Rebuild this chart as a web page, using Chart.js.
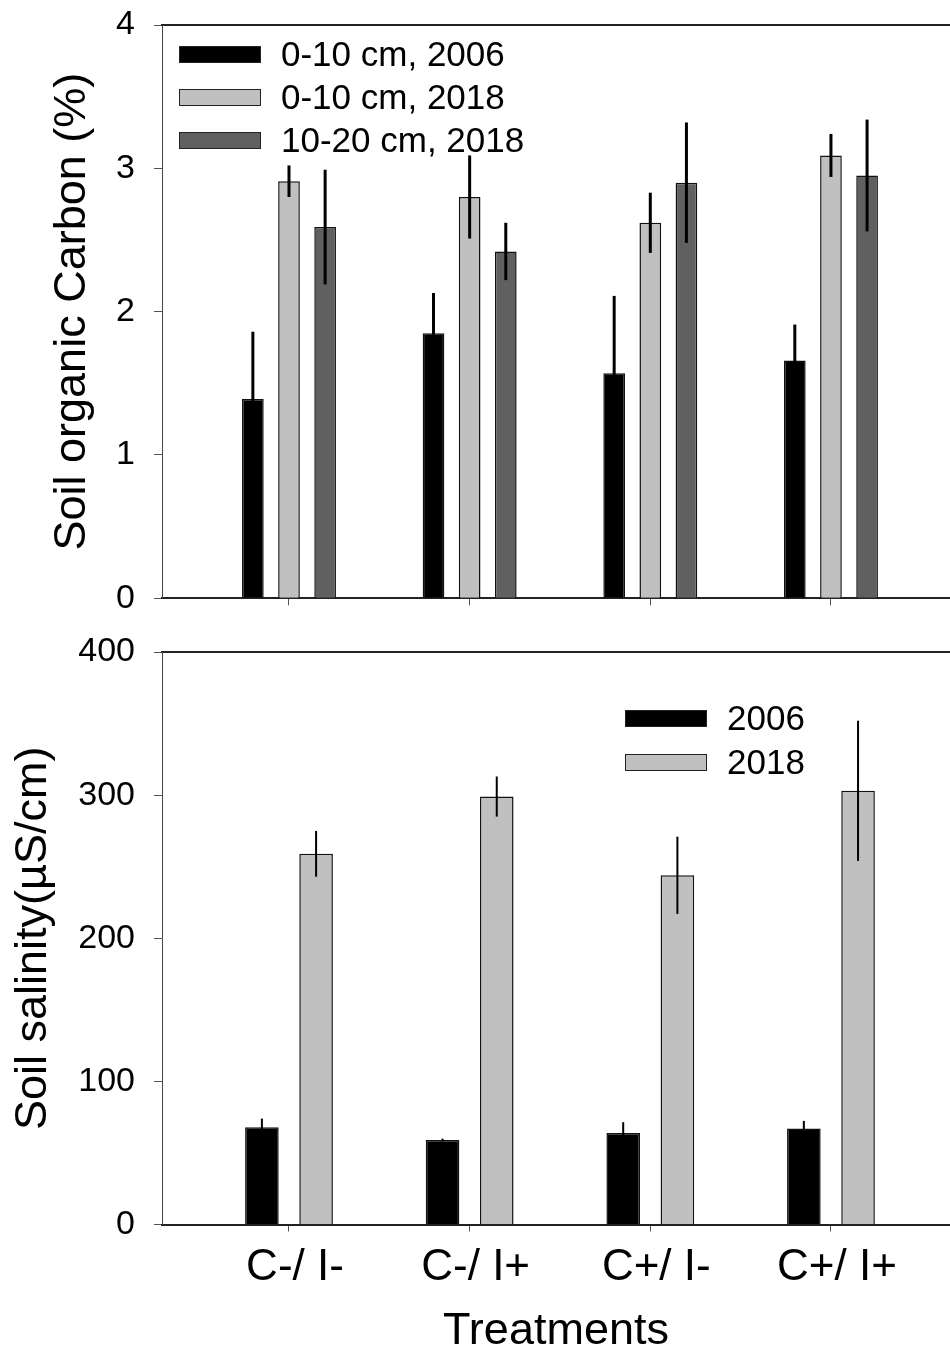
<!DOCTYPE html>
<html>
<head>
<meta charset="utf-8">
<script src="https://cdn.jsdelivr.net/npm/chart.js@4.4.0/dist/chart.umd.min.js"></script>
<style>
    body { margin: 0; background: #fff; width: 950px; height: 1354px; overflow: hidden; position: relative;
           font-family: "Liberation Sans", Arial, sans-serif; }
    canvas { position: absolute; left: 0; }
    #carbonChart { top: 0; }
    #salinityChart { top: 630px; }
    .legend { position: absolute; font-size: 35px; color: #000; }
    .legend .item { position: absolute; white-space: nowrap; height: 40px; }
    .legend .box { position: absolute; left: 0; width: 80px; height: 15px; top: 12px; border: 1px solid #222; }
    .legend .txt { position: absolute; left: 102px; top: 0; line-height: 40px; }
</style>
</head>
<body>
<canvas id="carbonChart" width="950" height="620"></canvas>
<canvas id="salinityChart" width="950" height="724"></canvas>
<div class="legend" id="carbonLegend" style="left:179px; top:34px;"></div>
<div class="legend" id="salinityLegend" style="left:625px; top:698px;"></div>

<script>
// Dados
const treatments = ['C-/ I-', 'C-/ I+', 'C+/ I-', 'C+/ I+'];

const carbonLabels = ['0-10 cm, 2006', '0-10 cm, 2018', '10-20 cm, 2018'];
const carbon2006 = [1.39, 1.85, 1.57, 1.66];
const carbon2006Err = [0.47, 0.28, 0.54, 0.25];
const carbon2018 = [2.91, 2.80, 2.62, 3.09];
const carbon2018Err = [0.11, 0.29, 0.21, 0.15];
const carbonDeep2018 = [2.59, 2.42, 2.90, 2.95];
const carbonDeep2018Err = [0.40, 0.20, 0.42, 0.39];
const carbonTicks = [0, 1, 2, 3, 4];

const salinityLabels = ['2006', '2018'];
const salinity2006 = [68, 59, 64, 67];
const salinity2006Err = [6, 1, 7.5, 5.4];
const salinity2018 = [259, 299, 244, 303];
const salinity2018Err = [16, 14, 27, 49];
const salinityTicks = [0, 100, 200, 300, 400];

const FONT = '"Liberation Sans", Arial, sans-serif';
Chart.defaults.font.family = FONT;
Chart.defaults.color = '#000';

// barras de erro (desenhadas por cima das barras)
const errorBars = {
    id: 'errorBars',
    afterDatasetsDraw(chart, args, opts) {
        const ctx = chart.ctx;
        const y = chart.scales.y;
        ctx.save();
        ctx.strokeStyle = '#000';
        ctx.lineWidth = opts.width || 2;
        chart.data.datasets.forEach((ds, i) => {
            const meta = chart.getDatasetMeta(i);
            meta.data.forEach((bar, j) => {
                const v = ds.data[j].y;
                const e = ds.errors[j];
                ctx.beginPath();
                ctx.moveTo(bar.x, y.getPixelForValue(v + e));
                ctx.lineTo(bar.x, y.getPixelForValue(v - e));
                ctx.stroke();
            });
        });
        ctx.restore();
    }
};

function toPoints(values) {
    return values.map((v, i) => ({ x: i + 1, y: v }));
}

function makeDataset(label, values, errors, color) {
    return {
        label: label,
        data: toPoints(values),
        errors: errors,
        backgroundColor: color,
        borderColor: '#111',
        borderWidth: 1.5
    };
}

function buildChart(id, cfg) {
    const ctx = document.getElementById(id).getContext('2d');
    return new Chart(ctx, {
        type: 'bar',
        data: { datasets: cfg.datasets },
        options: {
            responsive: false,
            animation: false,
            devicePixelRatio: 1,
            categoryPercentage: 0.6,
            barPercentage: cfg.barPercentage,
            layout: { padding: { top: cfg.padTop, left: 0, right: 0, bottom: 0 } },
            plugins: {
                legend: { display: false },
                tooltip: { enabled: false },
                errorBars: { width: cfg.errWidth }
            },
            scales: {
                x: {
                    type: 'linear',
                    min: 0.297,
                    max: 4.659,
                    offset: false,
                    afterBuildTicks: (scale) => { scale.ticks = [1, 2, 3, 4].map(v => ({ value: v })); },
                    afterFit: (scale) => {
                        scale.height = cfg.xHeight;
                        scale.paddingLeft = 0; scale.paddingRight = 0;
                    },
                    ticks: {
                        autoSkip: false,
                        maxRotation: 0,
                        padding: 10,
                        labelOffset: 6,
                        font: { size: 44 },
                        callback: (v) => cfg.showX ? treatments[v - 1] : ''
                    },
                    grid: { display: true, offset: false, drawOnChartArea: false, drawTicks: true,
                            tickLength: 7, color: '#555', lineWidth: 1 },
                    border: { display: true, color: '#222', width: 2 },
                    title: {
                        display: cfg.showX,
                        text: 'Treatments',
                        font: { size: 45, lineHeight: 1 },
                        padding: { top: 0, bottom: 0 }
                    }
                },
                x2: {
                    type: 'linear',
                    position: 'top',
                    ticks: { display: false },
                    grid: { display: false, drawTicks: false },
                    border: { display: true, color: '#222', width: 2 },
                    afterFit: (scale) => { scale.height = 0; }
                },
                y: {
                    min: cfg.yTicks[0],
                    max: cfg.yTicks[cfg.yTicks.length - 1],
                    afterBuildTicks: (scale) => { scale.ticks = cfg.yTicks.map(v => ({ value: v })); },
                    afterFit: (scale) => {
                        scale.width = 162;
                        scale.paddingTop = 0; scale.paddingBottom = 0;
                    },
                    ticks: { padding: 19, font: { size: 34 } },
                    grid: { display: true, drawOnChartArea: false, drawTicks: true,
                            tickLength: 8, color: '#555', lineWidth: 1 },
                    border: { display: true, color: '#444', width: 1 },
                    title: {
                        display: true,
                        text: cfg.yTitle,
                        font: { size: 45 },
                        padding: { top: cfg.yTitlePad, bottom: 0 }
                    }
                }
            }
        },
        plugins: [errorBars]
    });
}

const carbonColors = ['#000000', '#c0c0c0', '#606060'];
const salinityColors = ['#000000', '#c0c0c0'];

buildChart('carbonChart', {
    datasets: [
        makeDataset(carbonLabels[0], carbon2006, carbon2006Err, carbonColors[0]),
        makeDataset(carbonLabels[1], carbon2018, carbon2018Err, carbonColors[1]),
        makeDataset(carbonLabels[2], carbonDeep2018, carbonDeep2018Err, carbonColors[2])
    ],
    barPercentage: 0.6,
    padTop: 25,
    xHeight: 21.7,
    showX: false,
    yTicks: carbonTicks,
    yTitle: 'Soil organic Carbon (%)',
    yTitlePad: 46,
    errWidth: 3
});

buildChart('salinityChart', {
    datasets: [
        makeDataset(salinityLabels[0], salinity2006, salinity2006Err, salinityColors[0]),
        makeDataset(salinityLabels[1], salinity2018, salinity2018Err, salinityColors[1])
    ],
    barPercentage: 0.62,
    padTop: 22,
    xHeight: 129.5,
    showX: true,
    yTicks: salinityTicks,
    yTitle: 'Soil salinity(\u00b5S/cm)',
    yTitlePad: 7,
    errWidth: 2
});

// legendas em HTML
function buildLegend(id, labels, colors, rowGap) {
    const el = document.getElementById(id);
    labels.forEach((label, i) => {
        const item = document.createElement('div');
        item.className = 'item';
        item.style.top = (i * rowGap) + 'px';
        item.innerHTML = '<div class="box" style="background:' + colors[i] + '"></div>' +
                         '<div class="txt">' + label + '</div>';
        el.appendChild(item);
    });
}

buildLegend('carbonLegend', carbonLabels, carbonColors, 43);
buildLegend('salinityLegend', salinityLabels, salinityColors, 43.5);
</script>
</body>
</html>
